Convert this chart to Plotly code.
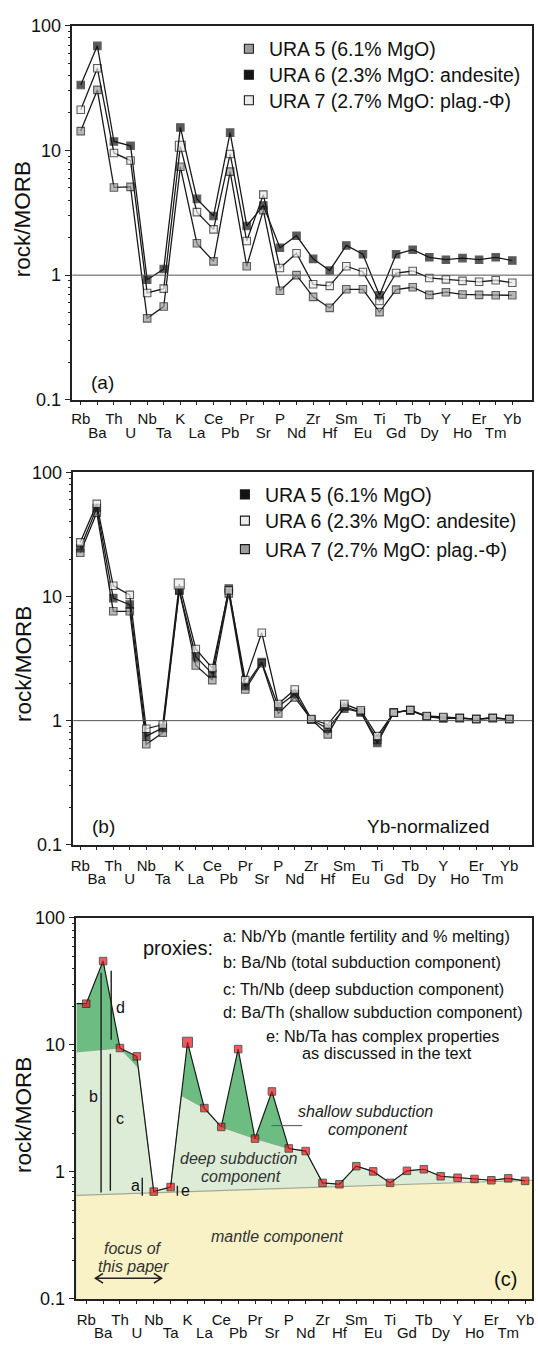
import plotly.graph_objects as go

# ---------------------------------------------------------------------------
# Data: MORB-normalised trace element patterns
# ---------------------------------------------------------------------------
elements = ["Rb", "Ba", "Th", "U", "Nb", "Ta", "K", "La", "Ce", "Pb", "Pr", "Sr", "P", "Nd",
            "Zr", "Hf", "Sm", "Eu", "Ti", "Gd", "Tb", "Dy", "Y", "Ho", "Er", "Tm", "Yb"]

# (a) raw rock/MORB
a_ura5 = [14.3, 30.6, 5.05, 5.1, 0.45, 0.56, 7.4, 1.80, 1.29, 6.76, 1.18, 3.32, 0.75, 1.00,
          0.67, 0.546, 0.77, 0.77, 0.505, 0.765, 0.80, 0.695, 0.73, 0.70, 0.695, 0.69, 0.69]
a_ura6 = [33.5, 69.0, 11.8, 10.9, 0.92, 1.12, 15.3, 4.09, 2.98, 13.9, 2.48, 3.62, 1.66, 2.07,
          1.35, 1.09, 1.73, 1.47, 0.69, 1.47, 1.60, 1.39, 1.33, 1.37, 1.33, 1.39, 1.31]
a_ura7 = [21.2, 45.6, 9.55, 8.3, 0.72, 0.78, 10.8, 3.20, 2.33, 9.37, 1.88, 4.42, 1.14, 1.50,
          0.845, 0.82, 1.18, 1.06, 0.62, 1.04, 1.08, 0.95, 0.925, 0.90, 0.885, 0.91, 0.87]

# (b) Yb-normalised
b_ura5 = [24.5, 51.6, 9.7, 8.6, 0.75, 0.875, 11.2, 3.28, 2.39, 11.6, 1.90, 2.96, 1.30, 1.64,
          1.02, 0.86, 1.25, 1.17, 0.66, 1.16, 1.21, 1.08, 1.04, 1.05, 1.03, 1.05, 1.03]
b_ura6 = [27.3, 55.7, 12.2, 10.3, 0.86, 0.93, 12.6, 3.78, 2.65, 11.2, 2.12, 5.10, 1.36, 1.78,
          1.03, 0.93, 1.36, 1.21, 0.75, 1.16, 1.22, 1.09, 1.07, 1.05, 1.03, 1.05, 1.03]
b_ura7 = [22.5, 47.3, 7.6, 7.6, 0.645, 0.80, 11.2, 2.78, 2.12, 10.6, 1.78, 2.90, 1.14, 1.54,
          1.02, 0.775, 1.30, 1.17, 0.70, 1.16, 1.21, 1.08, 1.06, 1.05, 1.03, 1.05, 1.03]

# (c) schematic pattern and its components
c_pattern = [21.1, 45.7, 9.45, 8.13, 0.70, 0.76, 10.5, 3.18, 2.26, 9.27, 1.83, 4.30, 1.53, 1.46,
             0.82, 0.80, 1.11, 1.01, 0.82, 1.02, 1.05, 0.925, 0.90, 0.88, 0.86, 0.89, 0.85]
# top of the deep subduction component (position on element axis, value)
deep_pos = [-0.587, 2, 3.085, 4, 5, 5.63, 7, 8, 10, 12, 13, 14, 15, 16, 17, 18, 19, 20, 21,
            22, 23, 24, 25, 26]
deep_val = [8.8, 9.45, 6.6, 0.70, 0.76, 4.0, 3.18, 2.26, 1.83, 1.53, 1.46, 0.82, 0.80, 1.11,
            1.01, 0.82, 1.02, 1.05, 0.925, 0.90, 0.88, 0.86, 0.89, 0.85]
# top of the mantle component at the two ends of the axis
mantle_pos = [-0.587, 26.41]
mantle_val = [0.655, 0.86]
# proxy bars: label, position, bottom, top
proxy_bars = [("b", 0.88, 0.69, 37.0), ("c", 1.43, 0.71, 8.5), ("d", 1.48, 11.0, 38.3),
              ("a", 3.32, 0.65, 0.90), ("e", 5.40, 0.65, 0.78)]

series_names = ["URA 5 (6.1% MgO)", "URA 6 (2.3% MgO: andesite)", "URA 7 (2.7% MgO: plag.-Φ)"]

yticks = [0.1, 1, 10, 100]
ytick_text = ["0.1", "1", "10", "100"]
yminor = [m * 10.0 ** e for e in (-1, 0, 1) for m in range(2, 10)]

W, H = 538, 1353
FONT = "Liberation Sans, Arial, sans-serif"


def px(x):
    return x / W


def py(y):
    return 1 - y / H


# pixel boxes of the three panels: left, right, top, bottom
boxes = {"a": (70, 534, 16, 395.7), "b": (71, 534, 469.3, 847.3), "c": (74, 534, 921.5, 1308.3)}
xranges = {"a": [-0.507, 27.19], "b": [-0.42, 27.38], "c": [-0.587, 26.41]}
axis_ids = {"a": ("x", "y", "x4"), "b": ("x2", "y2", "x5"), "c": ("x3", "y3", "x6")}
row_standoff = {"a": (1, 22), "b": (3, 23), "c": (3, 23)}

fig = go.Figure()

idx = list(range(len(elements)))
GRAY, BLACK, LIGHT = "#9c9c9c", "#141414", "#ececec"


def add_series(vals, fill, xa, ya, big_k=False):
    sizes = [10 if (big_k and e == "K") else 7.5 for e in elements]
    fig.add_trace(go.Scatter(
        x=idx, y=vals, mode="lines+markers", xaxis=xa, yaxis=ya, showlegend=False,
        line=dict(color="#1a1a1a", width=1.3),
        marker=dict(symbol="square", size=sizes, color=fill, line=dict(color="#1a1a1a", width=1.1)),
        hoverinfo="skip"))


def add_key(name, fill, legend):
    fig.add_trace(go.Scatter(
        x=[None], y=[None], mode="markers", name=name, legend=legend,
        marker=dict(symbol="square", size=9, color=fill, line=dict(color="#1a1a1a", width=1.1))))


# (a)
add_series(a_ura5, GRAY, "x", "y")
add_series(a_ura7, LIGHT, "x", "y", big_k=True)
add_series(a_ura6, BLACK, "x", "y")
for name, fill, leg in zip(series_names, (GRAY, BLACK, LIGHT), ("legend", "legend2", "legend3")):
    add_key(name, fill, leg)

# (b)
add_series(b_ura7, GRAY, "x2", "y2")
add_series(b_ura5, BLACK, "x2", "y2")
add_series(b_ura6, LIGHT, "x2", "y2", big_k=True)
for name, fill, leg in zip(series_names, (BLACK, LIGHT, GRAY), ("legend4", "legend5", "legend6")):
    add_key(name, fill, leg)

# (c) component fills
xl = deep_pos[0]
fig.add_trace(go.Scatter(
    x=[xl] + idx + [idx[-1], xl], y=[c_pattern[0]] + c_pattern + [0.1, 0.1],
    fill="toself", fillcolor="#6dbd82", mode="lines", line=dict(width=0),
    xaxis="x3", yaxis="y3", showlegend=False, hoverinfo="skip"))
fig.add_trace(go.Scatter(
    x=deep_pos + [idx[-1], xl], y=deep_val + [0.1, 0.1],
    fill="toself", fillcolor="#dcecd6", mode="lines", line=dict(width=0),
    xaxis="x3", yaxis="y3", showlegend=False, hoverinfo="skip"))
fig.add_trace(go.Scatter(
    x=deep_pos, y=deep_val, mode="lines", line=dict(color="#86ad88", width=1),
    xaxis="x3", yaxis="y3", showlegend=False, hoverinfo="skip"))
fig.add_trace(go.Scatter(
    x=[mantle_pos[0], mantle_pos[0], mantle_pos[1], mantle_pos[1]],
    y=[0.1, mantle_val[0], mantle_val[1], 0.1],
    fill="toself", fillcolor="#f8f2c6", mode="lines", line=dict(width=0),
    xaxis="x3", yaxis="y3", showlegend=False, hoverinfo="skip"))
fig.add_trace(go.Scatter(
    x=mantle_pos, y=mantle_val, mode="lines", line=dict(color="#a4a894", width=1.2),
    xaxis="x3", yaxis="y3", showlegend=False, hoverinfo="skip"))

# proxy bars
for lab, xp, y0, y1 in proxy_bars:
    fig.add_trace(go.Scatter(
        x=[xp, xp], y=[y0, y1], mode="lines", line=dict(color="#1e1e1e", width=1.4),
        xaxis="x3", yaxis="y3", showlegend=False, hoverinfo="skip"))

# pattern
fig.add_trace(go.Scatter(
    x=[xl] + idx, y=[c_pattern[0]] + c_pattern, mode="lines",
    line=dict(color="#1a1a1a", width=1.2), xaxis="x3", yaxis="y3",
    showlegend=False, hoverinfo="skip"))
fig.add_trace(go.Scatter(
    x=idx, y=c_pattern, mode="markers", xaxis="x3", yaxis="y3", showlegend=False,
    marker=dict(symbol="square", size=[10 if e == "K" else 7.5 for e in elements],
                color="#e3161c", line=dict(color="#1a1a1a", width=1)),
    hoverinfo="skip"))

# empty traces so the second-row label axes are laid out
for key in boxes:
    xa, ya, xb = axis_ids[key]
    fig.add_trace(go.Scatter(x=[None], y=[None], xaxis=xb, yaxis=ya, mode="markers",
                             showlegend=False, hoverinfo="skip"))

# ---------------------------------------------------------------------------
# Axes
# ---------------------------------------------------------------------------
layout = dict(
    width=W, height=H, margin=dict(l=0, r=0, t=0, b=0),
    paper_bgcolor="white", plot_bgcolor="white",
    font=dict(family=FONT, color="#111"),
    showlegend=True,
)

for key, (left, right, top, bottom) in boxes.items():
    xa, ya, xb = axis_ids[key]
    xdom = [px(left), px(right)]
    ydom = [py(bottom), py(top)]
    top_row = [e if i % 2 == 0 else "" for i, e in enumerate(elements)]
    s1, s2 = row_standoff[key]
    layout[xa.replace("x", "xaxis")] = dict(
        domain=xdom, range=xranges[key], anchor=ya, tickmode="array", tickvals=idx,
        ticktext=top_row, ticks="outside", ticklen=3, tickwidth=1, tickcolor="#222",
        showline=True, linecolor="#222", linewidth=1.5, mirror=True, showgrid=False,
        zeroline=False, tickfont=dict(size=15, color="#111"), ticklabelstandoff=s1)
    layout[xb.replace("x", "xaxis")] = dict(
        domain=xdom, range=xranges[key], anchor=ya, overlaying=xa, tickmode="array",
        tickvals=idx[1::2], ticktext=elements[1::2], ticks="", showline=False,
        showgrid=False, zeroline=False, tickfont=dict(size=15, color="#111"),
        ticklabelstandoff=s2)
    layout[ya.replace("y", "yaxis")] = dict(
        domain=ydom, type="log", range=[-1, 2], anchor=xa, tickmode="array",
        tickvals=yticks, ticktext=ytick_text, ticks="outside", ticklen=6, tickwidth=1,
        tickcolor="#222", showline=True, linecolor="#222", linewidth=1.5, mirror=True,
        showgrid=False, zeroline=False, tickfont=dict(size=18, color="#111"),
        minor=dict(tickmode="array", tickvals=yminor, ticks="outside", ticklen=3,
                   tickwidth=1, tickcolor="#222", showgrid=False))

fig.update_layout(**layout)

# reference line at rock/MORB = 1
for xa, ya in (("x", "y"), ("x2", "y2")):
    fig.add_shape(type="line", xref=f"{xa} domain", yref=ya, x0=0, x1=1, y0=1, y1=1,
                  line=dict(color="#555", width=1))

# one legend per key row so each row sits where it should
leg_common = dict(font=dict(size=19.5, color="#111", family=FONT), bgcolor="rgba(0,0,0,0)",
                  xanchor="left", yanchor="top", itemwidth=30)
legend_rows = {"legend": (228, 39.3), "legend2": (228, 65.7), "legend3": (228, 91.7),
               "legend4": (224, 491.7), "legend5": (224, 518.3), "legend6": (224, 547.3)}
fig.update_layout(**{name: dict(x=px(xp), y=py(yc - 19.5), **leg_common)
                     for name, (xp, yc) in legend_rows.items()})

# ---------------------------------------------------------------------------
# Text
# ---------------------------------------------------------------------------
def note(text, x, y, size=16, italic=False, xanchor="center", color="#111", angle=0):
    if italic:
        text = f"<i>{text}</i>"
    fig.add_annotation(text=text, x=px(x), y=py(y), xref="paper", yref="paper",
                       showarrow=False, xanchor=xanchor, yanchor="middle", textangle=angle,
                       font=dict(size=size, color=color, family=FONT))


for yc in (212.5, 664.0, 1121.7):
    note("rock/MORB", 20, yc, size=22.5, angle=-90)

note("(a)", 100, 378.3, size=19)
note("(b)", 101, 828.3, size=19)
note("Yb-normalized", 429, 828.3, size=19)
note("(c)", 507, 1288.5, size=20)

note("proxies:", 177, 951.7, size=20)
proxy_lines = ["a: Nb/Yb (mantle fertility and % melting)",
               "b: Ba/Nb (total subduction component)",
               "c: Th/Nb (deep subduction component)",
               "d: Ba/Th (shallow subduction component)"]
for text, ypix in zip(proxy_lines, (940, 966.7, 993.3, 1016.7)):
    note(text, 219.6, ypix, size=16.3, xanchor="left")
note("e: Nb/Ta has complex properties", 383.5, 1041, size=16.3)
note("as discussed in the text", 387.8, 1059, size=16.3)

for lab, xpix, ypix in (("b", 91.7, 1102.3), ("c", 118.3, 1125), ("d", 118.3, 1012.7),
                        ("a", 133.8, 1193.3), ("e", 184.3, 1198.3)):
    note(lab, xpix, ypix, size=16)

note("shallow subduction", 365.5, 1118.3, size=16, italic=True, color="#222")
note("component", 368, 1136.7, size=16, italic=True, color="#222")
note("deep subduction", 238.5, 1166, size=16, italic=True, color="#333")
note("component", 240, 1184, size=16, italic=True, color="#333")
note("mantle component", 277, 1245, size=16, italic=True, color="#333")
note("focus of", 131.4, 1256.7, size=16, italic=True, color="#333")
note("this paper", 131.4, 1275, size=16, italic=True, color="#333")

# leader for the shallow component label
fig.add_shape(type="line", xref="paper", yref="paper", x0=px(271), x1=px(302),
              y0=py(1132.3), y1=py(1132.3), line=dict(color="#666", width=1.2))
# double-headed arrow under "focus of this paper"
ay = 1287.3
arrow_path = (f"M {px(93.3)} {py(ay)} L {px(160)} {py(ay)} "
              f"M {px(101)} {py(ay - 5)} L {px(93.3)} {py(ay)} L {px(101)} {py(ay + 5)} "
              f"M {px(152.3)} {py(ay - 5)} L {px(160)} {py(ay)} L {px(152.3)} {py(ay + 5)}")
fig.add_shape(type="path", xref="paper", yref="paper", path=arrow_path,
              line=dict(color="#222", width=1.6))

fig.write_html("out.html")
